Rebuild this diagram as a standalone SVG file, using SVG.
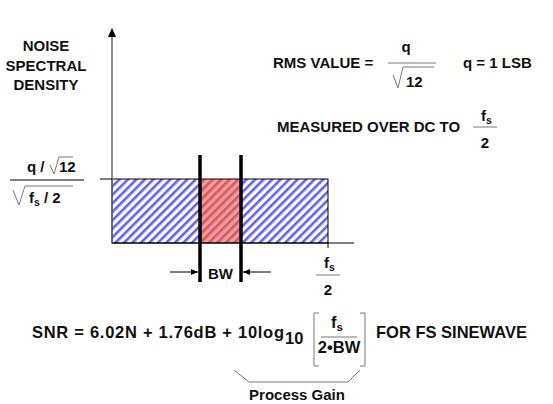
<svg xmlns="http://www.w3.org/2000/svg" width="553" height="404" viewBox="0 0 553 404">
<style>
text{font-family:"Liberation Sans",Arial,sans-serif;font-weight:bold;fill:#111}
.t{font-size:15px}
.b{font-size:16.5px}
.thin{stroke:#777;stroke-width:1;fill:none}
.ax{stroke:#666;stroke-width:1.5;fill:none}
.blk{stroke:#000;stroke-width:1;fill:none}
.bar{stroke:#000;stroke-width:3.5}
</style>
<defs>
<pattern id="hatch" patternUnits="userSpaceOnUse" width="6" height="6" patternTransform="rotate(45)">
<rect x="0" y="0" width="6" height="6" fill="#fff"/>
<rect x="0" y="0" width="2.6" height="6" fill="#6262ee"/>
</pattern>
<marker id="ah" markerWidth="8" markerHeight="8" refX="7" refY="4" orient="auto" markerUnits="userSpaceOnUse">
<path d="M0,1 L7,4 L0,7 Z" fill="#000"/>
</marker>
<marker id="up" markerWidth="10" markerHeight="12" refX="5" refY="1" orient="0" markerUnits="userSpaceOnUse">
<path d="M5,0 L9,9 L1,9 Z" fill="#000"/>
</marker>
</defs>

<g id="ylabel">
<text class="t" x="46" y="51" text-anchor="middle">NOISE</text>
<text class="t" x="46" y="71" text-anchor="middle">SPECTRAL</text>
<text class="t" x="46" y="90" text-anchor="middle">DENSITY</text>
</g>

<g id="level">
<text class="t" x="27" y="172">q /</text>
<polyline class="thin" points="50,165 54,174 59,157 73,157"/>
<text class="t" x="59" y="172">12</text>
<line class="blk" x1="10" y1="180" x2="84" y2="180"/>
<polyline class="thin" points="13,190 19,205 25,186 73,186"/>
<text class="t" x="29" y="203">f<tspan font-size="10.5" dy="3">s</tspan><tspan dy="-3"> / 2</tspan></text>
</g>

<g id="rms">
<text class="t" x="273" y="68">RMS VALUE =</text>
<text class="t" x="406" y="52" text-anchor="middle">q</text>
<line class="thin" x1="388" y1="63" x2="436" y2="63"/>
<polyline class="thin" points="393,75 398,88 403,67 434,67"/>
<text class="t" x="406" y="87">12</text>
<text class="t" x="463" y="68">q = 1 LSB</text>
</g>

<g id="measured">
<text class="t" x="277" y="132">MEASURED OVER DC TO</text>
<text class="t" x="481" y="121">f<tspan font-size="10.5" dy="3">s</tspan></text>
<line class="thin" x1="473" y1="127" x2="497" y2="127"/>
<text class="t" x="485" y="148" text-anchor="middle">2</text>
</g>

<g id="noise-band">
<rect x="112" y="179" width="216" height="64" fill="url(#hatch)"/>
<rect x="201" y="179" width="40" height="64" fill="#ff5a3c" fill-opacity="0.62"/>
<rect x="112" y="179" width="216" height="64" class="blk"/>
</g>

<g id="connectors">
<line class="ax" x1="112" y1="29" x2="112" y2="243" marker-start="url(#up)"/>
<line class="blk" x1="112" y1="243" x2="354" y2="243"/>
<line class="blk" x1="100" y1="179" x2="112" y2="179"/>
<line class="blk" x1="328" y1="243" x2="328" y2="248"/>
<line class="bar" x1="200" y1="155" x2="200" y2="282"/>
<line class="bar" x1="241" y1="155" x2="241" y2="282"/>
<line class="blk" x1="170" y1="272" x2="198" y2="272" marker-end="url(#ah)"/>
<line class="blk" x1="271" y1="272" x2="243" y2="272" marker-end="url(#ah)"/>
</g>

<g id="bw">
<text class="t" x="220.5" y="279" text-anchor="middle">BW</text>
</g>

<g id="fs2">
<text class="t" x="324" y="268">f<tspan font-size="10.5" dy="3">s</tspan></text>
<line class="thin" x1="316" y1="275" x2="340" y2="275"/>
<text class="t" x="328" y="295" text-anchor="middle">2</text>
</g>

<g id="snr">
<text class="b" x="32" y="338"><tspan textLength="252" lengthAdjust="spacing">SNR = 6.02N + 1.76dB + 10log</tspan></text>
<text class="b" x="285" y="344">10</text>
<polyline class="thin" points="319,313 314,313 314,366 319,366"/>
<polyline class="thin" points="360,313 365,313 365,366 360,366"/>
<text class="b" x="331" y="328">f<tspan font-size="11.5" dy="3">s</tspan></text>
<line class="thin" x1="321" y1="337" x2="357" y2="337"/>
<text class="b" x="339" y="353" text-anchor="middle">2•BW</text>
<text class="b" x="376" y="338">FOR FS SINEWAVE</text>
</g>

<g id="process-gain">
<polyline class="thin" points="234,370 249,382 348,382 360,370"/>
<text class="t" x="297" y="400" text-anchor="middle">Process Gain</text>
</g>
</svg>
